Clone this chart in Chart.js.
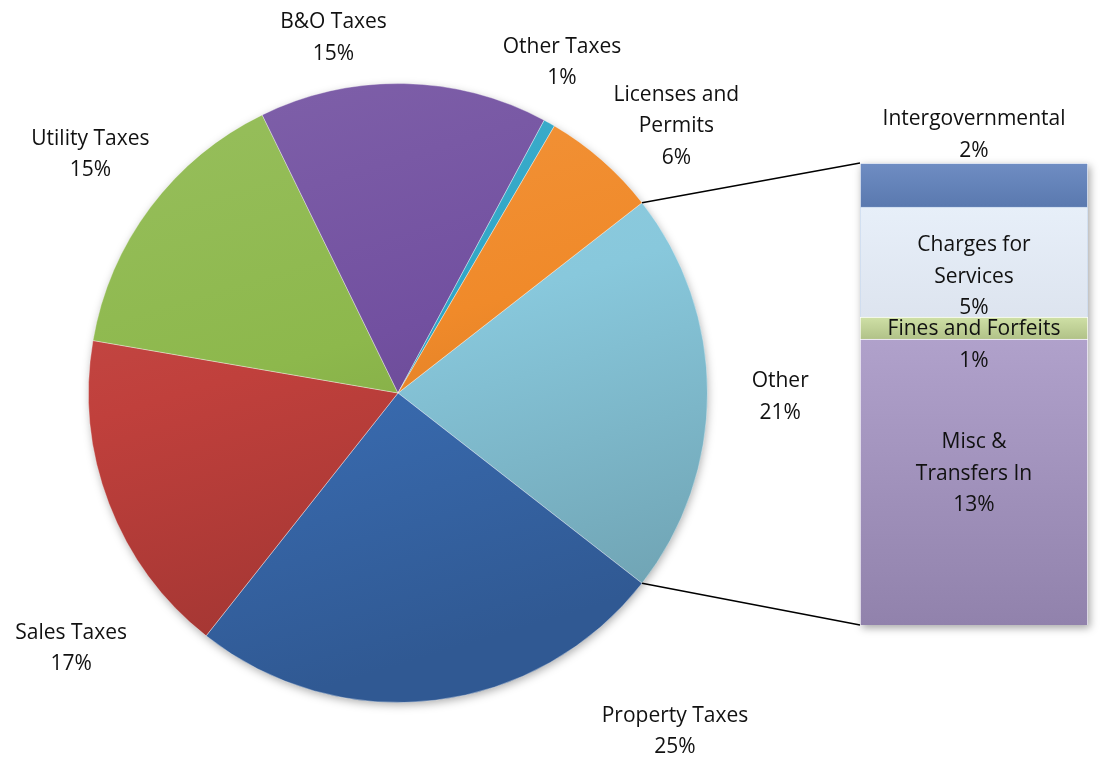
<!DOCTYPE html>
<html><head><meta charset="utf-8">
<script src="https://cdn.jsdelivr.net/npm/chart.js@4/dist/chart.umd.min.js"></script>
<style>
html,body{margin:0;padding:0;background:#fff;}
#wrap{position:relative;width:1100px;height:760px;overflow:hidden;}
canvas{position:absolute;left:0;top:0;}
</style></head><body>
<div id="wrap"><canvas id="pie" width="1100" height="760"></canvas><canvas id="bar" width="1100" height="760"></canvas></div>
<script>
// ---- data ----
const pieCategories = ['Other', 'Property Taxes', 'Sales Taxes', 'Utility Taxes', 'B&O Taxes', 'Other Taxes', 'Licenses and\nPermits'];
const pieValues = [21, 25, 17, 15, 15, 0.6, 6];
const barCategories = ['Misc &\nTransfers In', 'Fines and Forfeits', 'Charges for\nServices', 'Intergovernmental'];
const barValues = [13, 1, 5, 2];

// ---- styles ----
const FONT = '21px "Open Sans", Lato, sans-serif';
const LINE_H = 31.5;
const pieColors = ['#88C8DC', '#3A6DB3', '#C0403C', '#8DB84C', '#7250A0', '#2FA6C6', '#F08A2A'];
const barColors = ['#A594C4', '#C9DC9A', '#E6EEF9', '#6283BE'];
const barShade = [0.12, 0.12, 0.04, 0.08];
// label placement: polar angle (deg, clockwise from 12 o'clock) and distance in radii
const pieLabelPlace = [[90.6,1.235],[140.7,1.413],[232,1.34],[307.8,1.258],[349.7,1.165],[26.4,1.192],[46.2,1.246]];
const barLabelShift = [-8, 17, 15, -50];

function shade(hex, f){
  const n=parseInt(hex.slice(1),16); let r=n>>16,g=(n>>8)&255,b=n&255;
  if(f>=0){r+= (255-r)*f; g+=(255-g)*f; b+=(255-b)*f;} else {r*=1+f; g*=1+f; b*=1+f;}
  return 'rgb('+Math.round(r)+','+Math.round(g)+','+Math.round(b)+')';
}
function drawLines(ctx, text, x, y){
  const lines = text.split('\n');
  ctx.save();
  ctx.font = FONT; ctx.fillStyle = '#111'; ctx.textAlign='center'; ctx.textBaseline='middle';
  const y0 = y - (lines.length-1)*LINE_H/2;
  lines.forEach((l,i)=>ctx.fillText(l, x, y0+i*LINE_H));
  ctx.restore();
}

const pieTotal = pieValues.reduce((a,b)=>a+b,0);
const rotation = 90 - (pieValues[0]/pieTotal)*180;

const pieLabelPlugin = {
  id:'pieLabels',
  beforeDatasetsDraw(chart){
    const a = chart.getDatasetMeta(0).data[0]; if(!a) return;
    const ctx = chart.ctx; ctx.save();
    ctx.shadowColor='rgba(0,0,0,0.35)'; ctx.shadowBlur=10; ctx.shadowOffsetY=3; ctx.shadowOffsetX=1;
    ctx.beginPath(); ctx.arc(a.x,a.y,a.outerRadius-1,0,Math.PI*2); ctx.fillStyle='#fff'; ctx.fill();
    ctx.restore();
  },
  afterDatasetsDraw(chart){
    const meta = chart.getDatasetMeta(0); const ctx = chart.ctx;
    meta.data.forEach((arc,i)=>{
      const [ang, d] = pieLabelPlace[i];
      const rad = ang*Math.PI/180;
      const x = arc.x + Math.sin(rad)*arc.outerRadius*d;
      const y = arc.y - Math.cos(rad)*arc.outerRadius*d;
      const pct = Math.round(pieValues[i]/pieTotal*100);
      drawLines(ctx, pieCategories[i]+'\n'+pct+'%', x, y);
    });
  }
};

const pieChart = new Chart(document.getElementById('pie'), {
  type:'pie',
  data:{labels:pieCategories, datasets:[{data:pieValues,
    backgroundColor(c){
      const ch=c.chart, ca=ch.chartArea; if(!ca) return pieColors[c.dataIndex];
      const g=ch.ctx.createLinearGradient(ca.left, ca.top, ca.left+ca.width*0.3, ca.bottom);
      const base=pieColors[c.dataIndex];
      g.addColorStop(0, shade(base,0.1)); g.addColorStop(0.5, base); g.addColorStop(1, shade(base,-0.18));
      return g;
    },
    borderColor:'rgba(255,255,255,0.35)', borderWidth:1}]},
  options:{responsive:false, animation:false, devicePixelRatio:1, rotation:rotation,
    layout:{padding:{left:88,right:392,top:83,bottom:57}},
    plugins:{legend:{display:false}, tooltip:{enabled:false}}},
  plugins:[pieLabelPlugin]
});

const barTotal = barValues.reduce((a,b)=>a+b,0);
const barPlugin = {
  id:'barExtras',
  beforeDatasetsDraw(chart){
    const ca=chart.chartArea, ctx=chart.ctx; ctx.save();
    ctx.shadowColor='rgba(0,0,0,0.35)'; ctx.shadowBlur=8; ctx.shadowOffsetY=3; ctx.shadowOffsetX=2;
    ctx.fillStyle='#fff'; ctx.fillRect(ca.left, ca.top, ca.right-ca.left, ca.bottom-ca.top);
    ctx.restore();
  },
  afterDatasetsDraw(chart){
    const ctx=chart.ctx;
    const arc = pieChart.getDatasetMeta(0).data[0];
    const topBar = chart.getDatasetMeta(barValues.length-1).data[0];
    const botBar = chart.getDatasetMeta(0).data[0];
    const left = topBar.x - topBar.width/2;
    ctx.save(); ctx.strokeStyle='#000'; ctx.lineWidth=1.5;
    ctx.beginPath();
    ctx.moveTo(arc.x+arc.outerRadius*Math.cos(arc.startAngle), arc.y+arc.outerRadius*Math.sin(arc.startAngle));
    ctx.lineTo(left, topBar.y);
    ctx.moveTo(arc.x+arc.outerRadius*Math.cos(arc.endAngle), arc.y+arc.outerRadius*Math.sin(arc.endAngle));
    ctx.lineTo(left, botBar.base);
    ctx.stroke(); ctx.restore();
    barValues.forEach((v,i)=>{
      const el = chart.getDatasetMeta(i).data[0];
      const pct = Math.round(v/(pieTotal)*100);
      drawLines(ctx, barCategories[i]+'\n'+pct+'%', el.x, (el.y+el.base)/2 + barLabelShift[i]);
    });
  }
};

new Chart(document.getElementById('bar'), {
  type:'bar',
  data:{labels:[''], datasets: barValues.map((v,i)=>({label:barCategories[i], data:[v],
    backgroundColor(c){
      const ch=c.chart, ca=ch.chartArea;
      if(!ca || !isFinite(ca.top) || !isFinite(ca.bottom)) return barColors[i];
      let lo=0; for(let k=0;k<i;k++) lo+=barValues[k];
      const hi=lo+v, H=ca.bottom-ca.top;
      const y1=ca.bottom-hi/barTotal*H, y2=ca.bottom-lo/barTotal*H;
      if(!isFinite(y1)||!isFinite(y2)||y1===y2) return barColors[i];
      const g=ch.ctx.createLinearGradient(0, y1, 0, y2);
      g.addColorStop(0, shade(barColors[i],barShade[i])); g.addColorStop(1, shade(barColors[i],-barShade[i]));
      return g;
    },
    borderColor: i===2 ? '#C9D9EE' : 'rgba(255,255,255,0.6)', borderWidth:1,
    barPercentage:1, categoryPercentage:1}))},
  options:{responsive:false, animation:false, devicePixelRatio:1,
    layout:{padding:{left:860,right:12,top:163,bottom:135}},
    scales:{x:{display:false, stacked:true}, y:{display:false, stacked:true, min:0, max:barTotal}},
    plugins:{legend:{display:false}, tooltip:{enabled:false}}},
  plugins:[barPlugin]
});
</script>
</body></html>
